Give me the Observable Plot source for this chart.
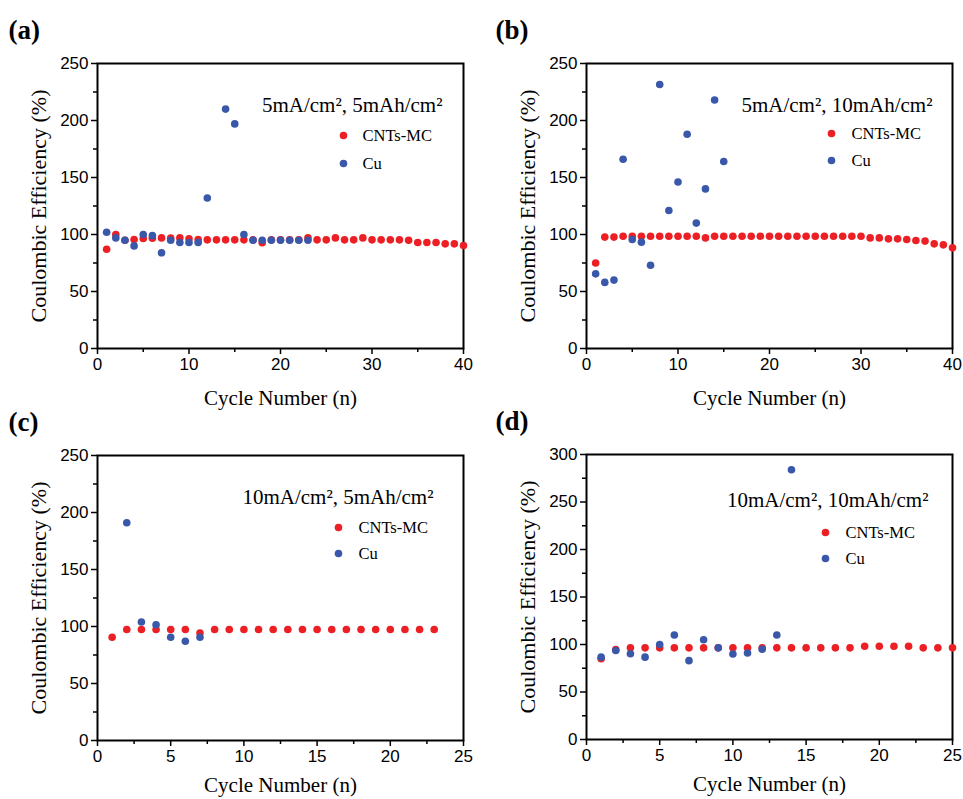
<!DOCTYPE html>
<html>
<head>
<meta charset="utf-8">
<script src="https://cdn.jsdelivr.net/npm/d3@7"></script>
<script src="https://cdn.jsdelivr.net/npm/@observablehq/plot@0.6"></script>
<style>
html, body { margin: 0; padding: 0; background: #fff; }
#wrap { position: relative; width: 963px; height: 799px; background: #fff; }
#wrap > div { position: absolute; }
</style>
</head>
<body>
<div id="wrap"></div>
<script>
// ---------- data ----------
const seriesNames = ["CNTs-MC", "Cu"];
const yLabel = "Coulombic Efficiency (%)";
const xLabel = "Cycle Number (n)";

// (a) 5mA/cm2, 5mAh/cm2
const aCondition = "5mA/cm², 5mAh/cm²";
const aRedCycles = [1,2,3,4,5,6,7,8,9,10,11,12,13,14,15,16,17,18,19,20,21,22,23,24,25,26,27,28,29,30,31,32,33,34,35,36,37,38,39,40];
const aRedValues = [87,100,95,95.6,96.5,96.8,97,96.8,97,96.2,95.6,95.3,95.3,95.3,95.3,95.3,95.3,92.7,95.3,95.3,95.3,95.3,97,95.3,95.3,97,95.3,95.3,97,95.3,95.3,95.3,95.3,95,93,93,93,91.8,91.8,90.4];
const aCuCycles = [1,2,3,4,5,6,7,8,9,10,11,12,14,15,16,17,18,19,20,21,22,23];
const aCuValues = [102,97,95,90,100,99,84,95,93,93,93,132,210,197,100,95,95,95,95,95,95,95];

// (b) 5mA/cm2, 10mAh/cm2
const bCondition = "5mA/cm², 10mAh/cm²";
const bRedCycles = [1,2,3,4,5,6,7,8,9,10,11,12,13,14,15,16,17,18,19,20,21,22,23,24,25,26,27,28,29,30,31,32,33,34,35,36,37,38,39,40];
const bRedValues = [75,97.7,97.7,98.5,98.5,98.5,98.5,98.5,98.5,98.5,98.5,98.5,97,98.5,98.5,98.5,98.5,98.5,98.5,98.5,98.5,98.5,98.5,98.5,98.5,98.5,98.5,98.5,98.5,98.5,97,97,96.2,96.2,95.6,94.7,94.2,91.8,90.9,88.3];
const bCuCycles = [1,2,3,4,5,6,7,8,9,10,11,12,13,14,15];
const bCuValues = [65.5,58,60,166,95.6,93.3,73,231.6,121,146,188,110,140,218,164];

// (c) 10mA/cm2, 5mAh/cm2
const cCondition = "10mA/cm², 5mAh/cm²";
const cRedCycles = [1,2,3,4,5,6,7,8,9,10,11,12,13,14,15,16,17,18,19,20,21,22,23];
const cRedValues = [90.6,97.4,97.4,97.4,97.4,97.4,94.2,97.4,97.4,97.4,97.4,97.4,97.4,97.4,97.4,97.4,97.4,97.4,97.4,97.4,97.4,97.4,97.4];
const cCuCycles = [2,3,4,5,6,7];
const cCuValues = [191,104,101.5,90.6,87,90.6];

// (d) 10mA/cm2, 10mAh/cm2
const dCondition = "10mA/cm², 10mAh/cm²";
const dRedCycles = [1,2,3,4,5,6,7,8,9,10,11,12,13,14,15,16,17,18,19,20,21,22,23,24,25];
const dRedValues = [85,94.7,96.5,96.5,96.5,96.5,96.5,96.5,96.5,96.5,96.5,96.5,96.5,96.5,96.5,96.5,96.5,96.5,98.2,98.2,98.2,98.2,96.5,96.5,96.5];
const dCuCycles = [1,2,3,4,5,6,7,8,9,10,11,12,13,14];
const dCuValues = [86.7,93.7,90.2,86.7,100,110,83,105,96.5,90,91,95,110,284];

// axis ticks
const xTicks40 = [0,10,20,30,40];
const xMinor40 = [5,15,25,35];
const xTicks25 = [0,5,10,15,20,25];
const xMinor25 = [2.5,7.5,12.5,17.5,22.5];
const yTicks250 = [0,50,100,150,200,250];
const yMinor250 = [25,75,125,175,225];
const yTicks300 = [0,50,100,150,200,250,300];
const yMinor300 = [25,75,125,175,225,275];

// ---------- styling / layout ----------
const RED = "#ec1f24";
const BLUE = "#3a58a9";
const SERIF = "'Liberation Serif', 'Times New Roman', serif";
const SANS = "'Liberation Sans', Arial, sans-serif";

const panels = [
  {tag: "(a)", cond: aCondition, rc: aRedCycles, rv: aRedValues, bc: aCuCycles, bv: aCuValues,
   xd: [0,40], xt: xTicks40, xm: xMinor40, yd: [0,250], yt: yTicks250, ym: yMinor250,
   left: 0, top: 0, ml: 97, mr: 18, mt: 63, mb: 51, xlDy: 50,
   tagDx: -89, condDx: -21, condDy: 42, legDotDx: -120, legTxtDx: -101, leg1Dy: 72, leg2Dy: 100},
  {tag: "(b)", cond: bCondition, rc: bRedCycles, rv: bRedValues, bc: bCuCycles, bv: bCuValues,
   xd: [0,40], xt: xTicks40, xm: xMinor40, yd: [0,250], yt: yTicks250, ym: yMinor250,
   left: 481, top: 0, ml: 105, mr: 10, mt: 63, mb: 51, xlDy: 50,
   tagDx: -91, condDx: -20, condDy: 42, legDotDx: -121, legTxtDx: -101, leg1Dy: 70, leg2Dy: 97},
  {tag: "(c)", cond: cCondition, rc: cRedCycles, rv: cRedValues, bc: cCuCycles, bv: cCuValues,
   xd: [0,25], xt: xTicks25, xm: xMinor25, yd: [0,250], yt: yTicks250, ym: yMinor250,
   left: 0, top: 392, ml: 97, mr: 18, mt: 63, mb: 51, xlDy: 45,
   tagDx: -89, condDx: -30, condDy: 42, legDotDx: -125, legTxtDx: -105, leg1Dy: 72, leg2Dy: 98},
  {tag: "(d)", cond: dCondition, rc: dRedCycles, rv: dRedValues, bc: dCuCycles, bv: dCuValues,
   xd: [0,25], xt: xTicks25, xm: xMinor25, yd: [0,300], yt: yTicks300, ym: yMinor300,
   left: 481, top: 392, ml: 105, mr: 10, mt: 62, mb: 52, xlDy: 45,
   tagDx: -91, condDx: -24, condDy: 46, legDotDx: -127, legTxtDx: -107, leg1Dy: 78, leg2Dy: 104}
];

function makePanel(p) {
  const red = p.rc.map((c, i) => ({cycle: c, ce: p.rv[i], series: seriesNames[0]}));
  const blue = p.bc.map((c, i) => ({cycle: c, ce: p.bv[i], series: seriesNames[1]}));
  return Plot.plot({
    width: 481, height: 399,
    marginLeft: p.ml, marginRight: p.mr, marginTop: p.mt, marginBottom: p.mb,
    style: {fontFamily: SANS, fontSize: "17px", background: "transparent", color: "black", overflow: "visible"},
    x: {domain: p.xd},
    y: {domain: p.yd},
    marks: [
      Plot.axisX({ticks: p.xm, tickSize: 4, tickFormat: () => "", strokeWidth: 1.5, label: null}),
      Plot.axisX({ticks: p.xt, tickSize: 6, tickPadding: 3, strokeWidth: 1.5, label: null, tickFormat: d3.format("d")}),
      Plot.axisY({ticks: p.ym, tickSize: 4, tickFormat: () => "", strokeWidth: 1.5, label: null}),
      Plot.axisY({ticks: p.yt, tickSize: 6, tickPadding: 3, strokeWidth: 1.5, label: null, tickFormat: d3.format("d")}),
      Plot.frame({stroke: "black", strokeWidth: 2}),
      Plot.dot(red, {x: "cycle", y: "ce", r: 3.8, fill: RED}),
      Plot.dot(blue, {x: "cycle", y: "ce", r: 3.8, fill: BLUE}),
      // condition label
      Plot.text([p.cond], {frameAnchor: "top-right", dx: p.condDx, dy: p.condDy, textAnchor: "end", lineAnchor: "middle", fontFamily: SERIF, fontSize: 21, fill: "black"}),
      // legend
      Plot.dot([seriesNames[0]], {frameAnchor: "top-right", dx: p.legDotDx, dy: p.leg1Dy, r: 3.8, fill: RED}),
      Plot.dot([seriesNames[1]], {frameAnchor: "top-right", dx: p.legDotDx, dy: p.leg2Dy, r: 3.8, fill: BLUE}),
      Plot.text([seriesNames[0]], {frameAnchor: "top-right", dx: p.legTxtDx, dy: p.leg1Dy, textAnchor: "start", lineAnchor: "middle", fontFamily: SERIF, fontSize: 16.5, fill: "black"}),
      Plot.text([seriesNames[1]], {frameAnchor: "top-right", dx: p.legTxtDx, dy: p.leg2Dy, textAnchor: "start", lineAnchor: "middle", fontFamily: SERIF, fontSize: 16.5, fill: "black"}),
      // axis titles
      Plot.text([yLabel], {frameAnchor: "left", dx: -59, rotate: -90, textAnchor: "middle", lineAnchor: "middle", fontFamily: SERIF, fontSize: 22, fill: "black"}),
      Plot.text([xLabel], {frameAnchor: "bottom", dy: p.xlDy, textAnchor: "middle", lineAnchor: "middle", fontFamily: SERIF, fontSize: 21, fill: "black"}),
      // panel tag
      Plot.text([p.tag], {frameAnchor: "top-left", dx: p.tagDx, dy: -33, textAnchor: "start", lineAnchor: "middle", fontFamily: SERIF, fontWeight: "bold", fontSize: 27, fill: "black"})
    ]
  });
}

const wrap = document.getElementById("wrap");
for (const p of panels) {
  const div = document.createElement("div");
  div.style.left = p.left + "px";
  div.style.top = p.top + "px";
  div.appendChild(makePanel(p));
  wrap.appendChild(div);
}
</script>
</body>
</html>
